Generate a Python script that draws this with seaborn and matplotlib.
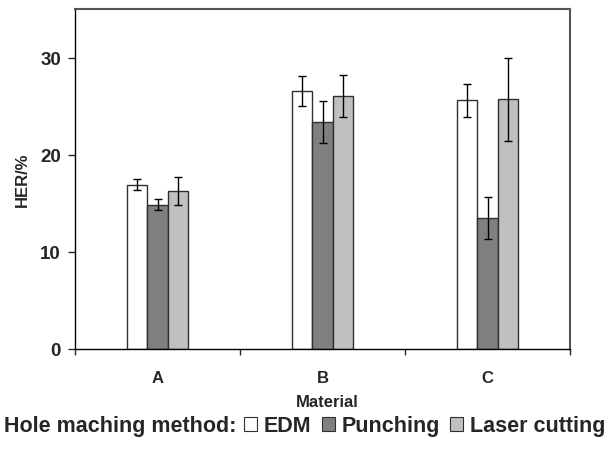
import pandas as pd
import numpy as np
import matplotlib
matplotlib.use("Agg")
import matplotlib.pyplot as plt
import seaborn as sns
from matplotlib.patches import Patch

materials = ["A", "B", "C"]
methods = ["EDM", "Punching", "Laser cutting"]
her_edm = [16.9, 26.55, 25.6]
her_punching = [14.85, 23.4, 13.5]
her_laser = [16.25, 26.05, 25.7]
err_edm = [0.55, 1.55, 1.7]
err_punching = [0.55, 2.15, 2.15]
err_laser = [1.45, 2.2, 4.3]
colores = ["#ffffff", "#808080", "#c0c0c0"]

sns.set_style("white")
plt.rcParams["font.family"] = ["Liberation Sans", "DejaVu Sans"]
plt.rcParams["font.weight"] = "bold"

df = pd.DataFrame({
    "Material": materials * 3,
    "metodo": [m for m in methods for _ in materials],
    "her": her_edm + her_punching + her_laser,
})
errores = [err_edm, err_punching, err_laser]

fig = plt.figure(figsize=(6.09, 4.52), dpi=100)
ax = fig.add_axes([75/609, 1 - 350/452, 495/609, 340/452])

sns.barplot(data=df, x="Material", y="her", hue="metodo", hue_order=methods,
            order=materials, palette=colores, width=0.375, edgecolor="#303030",
            linewidth=1, errorbar=None, legend=False, ax=ax)

for cont, err in zip(ax.containers, errores):
    xs = [p.get_x() + p.get_width() / 2 for p in cont.patches]
    ys = [p.get_height() for p in cont.patches]
    ax.errorbar(xs, ys, yerr=err, fmt="none", ecolor="black", elinewidth=1,
                capsize=3, capthick=1)

ax.set_ylim(0, 35)
ax.set_xlim(-0.5, 2.5)
ax.set_yticks([0, 10, 20, 30])
ax.set_yticklabels(["0", "10", "20", "30"], fontsize=13.5, fontweight="bold")
ax.tick_params(axis="y", direction="out", length=5, width=1, pad=5, left=True)

ax.set_xticks([-0.5, 0.5, 1.5, 2.5])
ax.set_xticklabels([])
ax.tick_params(axis="x", which="major", direction="out", length=4.5, width=1, bottom=True)
ax.set_xticks([0, 1, 2], minor=True)
ax.set_xticklabels(materials, minor=True, fontsize=12, fontweight="bold")
ax.tick_params(axis="x", which="minor", length=0, pad=15)

ax.set_xlabel("Material", fontsize=12, fontweight="bold", va="top")
ax.xaxis.set_label_coords(0.509, -0.131)
ax.set_ylabel("HER/%", fontsize=12, fontweight="bold")
ax.yaxis.set_label_coords(-0.092, 0.5)

for s in ["left", "bottom"]:
    ax.spines[s].set_color("black")
    ax.spines[s].set_linewidth(1)
for s in ["top", "right"]:
    ax.spines[s].set_color("#555555")
    ax.spines[s].set_linewidth(1.5)
    ax.spines[s].set_visible(True)

fig.text(4/609, 1 - 427/452, "Hole maching method:", fontsize=15.5,
         fontweight="bold", va="center", ha="left")
handles = [Patch(facecolor=c, edgecolor="#303030", linewidth=0.8) for c in colores]
fig.legend(handles, methods, loc="center left", bbox_to_anchor=(244/609, 1 - 427/452),
           ncol=3, frameon=False, handlelength=0.6, handleheight=0.6,
           handletextpad=0.3, columnspacing=0.5, borderpad=0, borderaxespad=0,
           prop={"weight": "bold", "size": 15.5})

fig.savefig("out.png", dpi=100)
